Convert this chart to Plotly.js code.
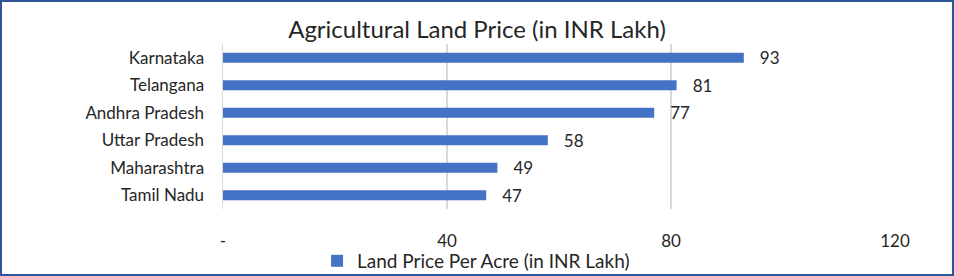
<!DOCTYPE html>
<html><head><meta charset="utf-8">
<script src="https://cdn.plot.ly/plotly-3.0.1.min.js"></script>
<style>
html,body{margin:0;padding:0;background:#fff;}
#chart{width:950px;height:272px;border:2px solid #2F5597;}
</style></head>
<body><div id="chart"></div>
<script>
const states = ["Karnataka","Telangana","Andhra Pradesh","Uttar Pradesh","Maharashtra","Tamil Nadu"];
const prices = [93, 81, 77, 58, 49, 47];
const tickVals = [0, 40, 80, 120];
const tickText = ["-", "40", "80", "120"];
const seriesName = "Land Price Per Acre (in INR Lakh)";

const font = "Lato, 'Open Sans', sans-serif";
Plotly.newPlot("chart", [{
  type: "bar",
  orientation: "h",
  y: states,
  x: prices,
  name: seriesName,
  marker: {color: "#4472C4"},
  width: 0.36,
  texttemplate: "\u00a0\u00a0\u00a0%{x}",
  textposition: "outside",
  constraintext: "none",
  textfont: {family: font, size: 17, color: "#262626"},
  outsidetextfont: {family: font, size: 17, color: "#262626"},
  cliponaxis: false,
  showlegend: true
}], {
  width: 950, height: 272,
  margin: {l: 221, r: 57, t: 42, b: 65},
  paper_bgcolor: "#fff", plot_bgcolor: "#fff",
  font: {family: font, size: 17, color: "#262626"},
  title: {text: "Agricultural Land Price (in INR Lakh)", font: {family: font, size: 24, color: "#262626"}, x: 0.5, xanchor: "center", y: 0.9, yanchor: "middle"},
  xaxis: {range: [0, 120], tickvals: tickVals, ticktext: tickText, showgrid: true, gridcolor: "#D9D9D9", gridwidth: 1.5, zeroline: false, showline: false, ticks: "", ticklen: 0, ticklabelstandoff: 20, tickfont: {size: 17, color: "#262626"}, fixedrange: true, automargin: false},
  yaxis: {autorange: "reversed", showline: true, linecolor: "#D9D9D9", linewidth: 1.5, ticks: "", tickfont: {size: 17, color: "#262626"}, ticklabelstandoff: 14, automargin: false},
  legend: {orientation: "h", x: 0.499, xref: "container", xanchor: "center", y: 0.048, yref: "container", yanchor: "middle", bgcolor: "rgba(0,0,0,0)", font: {size: 19, color: "#262626"}, itemwidth: 30},
  bargap: 0.64
}, {displayModeBar: false, staticPlot: true});
</script></body></html>
